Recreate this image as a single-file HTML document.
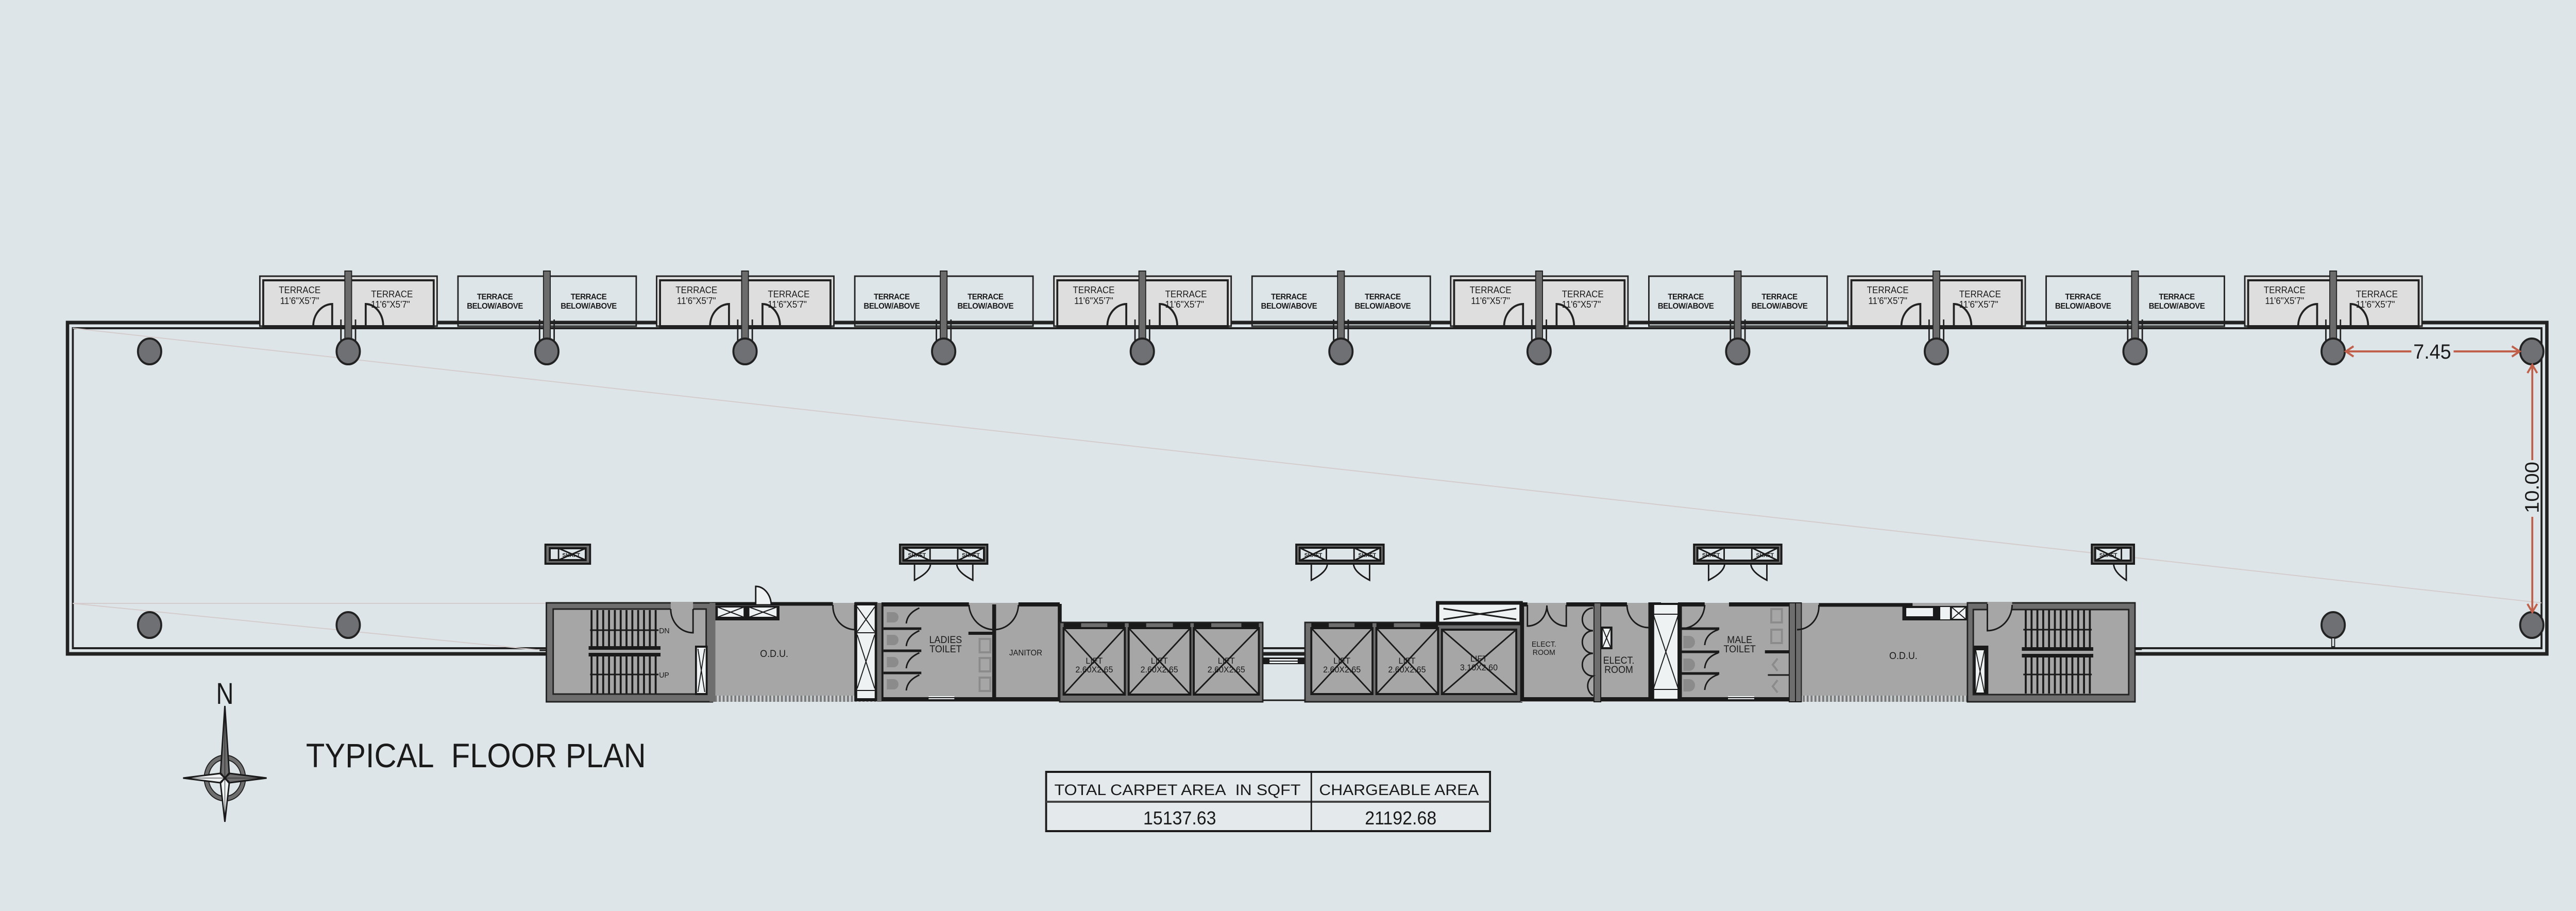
<!DOCTYPE html>
<html><head><meta charset="utf-8">
<style>
html,body{margin:0;padding:0;background:#dee5e8;width:100vw;height:100vh;overflow:hidden;}
svg{display:block;position:absolute;left:0;top:0;width:100vw;height:100vh;}
text{font-family:"Liberation Sans",sans-serif;fill:#1a1a1a;}
.n{font-family:"Liberation Sans Narrow","Liberation Sans",sans-serif;}
</style></head><body>
<svg viewBox="0 0 5304 1768" preserveAspectRatio="none" xmlns="http://www.w3.org/2000/svg" overflow="hidden">
<defs>
<pattern id="hatch" width="8" height="14" patternUnits="userSpaceOnUse"><rect width="8" height="14" fill="#c9ced0"/><rect x="0" y="0" width="4" height="14" fill="#7a7a7a"/></pattern>
</defs>
<rect width="5304" height="1768" fill="#dee5e8"/>

<rect x="139" y="626" width="5105" height="643" fill="none" stroke="#222" stroke-width="7"/>
<rect x="150" y="637" width="5083" height="621" fill="none" stroke="#222" stroke-width="4"/>
<g stroke="#d4cccc" stroke-width="2" fill="none">
<line x1="150" y1="637" x2="5233" y2="1170"/>
<line x1="150" y1="1171" x2="1125" y2="1171"/>
<line x1="150" y1="1171" x2="1125" y2="1263"/>
</g>

<g stroke="#222" fill="none">
<g transform="translate(717,0)"><rect x="-182" y="536" width="365" height="97" fill="#dedede" stroke-width="3"/><rect x="-175" y="544" width="351" height="89" stroke-width="4"/><path d="M-33 633V590A40 43 0 0 0 -72 633M36 633V590A36 43 0 0 1 72 633" stroke-width="4"/></g>
<g transform="translate(1534,0)"><rect x="-182" y="536" width="365" height="97" fill="#dedede" stroke-width="3"/><rect x="-175" y="544" width="351" height="89" stroke-width="4"/><path d="M-33 633V590A40 43 0 0 0 -72 633M36 633V590A36 43 0 0 1 72 633" stroke-width="4"/></g>
<g transform="translate(2352,0)"><rect x="-182" y="536" width="365" height="97" fill="#dedede" stroke-width="3"/><rect x="-175" y="544" width="351" height="89" stroke-width="4"/><path d="M-33 633V590A40 43 0 0 0 -72 633M36 633V590A36 43 0 0 1 72 633" stroke-width="4"/></g>
<g transform="translate(3169,0)"><rect x="-182" y="536" width="365" height="97" fill="#dedede" stroke-width="3"/><rect x="-175" y="544" width="351" height="89" stroke-width="4"/><path d="M-33 633V590A40 43 0 0 0 -72 633M36 633V590A36 43 0 0 1 72 633" stroke-width="4"/></g>
<g transform="translate(3987,0)"><rect x="-182" y="536" width="365" height="97" fill="#dedede" stroke-width="3"/><rect x="-175" y="544" width="351" height="89" stroke-width="4"/><path d="M-33 633V590A40 43 0 0 0 -72 633M36 633V590A36 43 0 0 1 72 633" stroke-width="4"/></g>
<g transform="translate(4804,0)"><rect x="-182" y="536" width="365" height="97" fill="#dedede" stroke-width="3"/><rect x="-175" y="544" width="351" height="89" stroke-width="4"/><path d="M-33 633V590A40 43 0 0 0 -72 633M36 633V590A36 43 0 0 1 72 633" stroke-width="4"/></g>
<rect x="943" y="536" width="367" height="97" stroke-width="3"/>
<rect x="1760" y="536" width="367" height="97" stroke-width="3"/>
<rect x="2578" y="536" width="367" height="97" stroke-width="3"/>
<rect x="3395" y="536" width="367" height="97" stroke-width="3"/>
<rect x="4213" y="536" width="367" height="97" stroke-width="3"/>
</g>

<g font-size="18" text-anchor="middle" fill="#222">
<text x="617" y="569">TERRACE</text><text x="617" y="590">11'6"X5'7"</text><text x="807" y="577">TERRACE</text><text x="804" y="597">11'6"X5'7"</text>
<text x="1434" y="569">TERRACE</text><text x="1434" y="590">11'6"X5'7"</text><text x="1624" y="577">TERRACE</text><text x="1621" y="597">11'6"X5'7"</text>
<text x="2252" y="569">TERRACE</text><text x="2252" y="590">11'6"X5'7"</text><text x="2442" y="577">TERRACE</text><text x="2439" y="597">11'6"X5'7"</text>
<text x="3069" y="569">TERRACE</text><text x="3069" y="590">11'6"X5'7"</text><text x="3259" y="577">TERRACE</text><text x="3256" y="597">11'6"X5'7"</text>
<text x="3887" y="569">TERRACE</text><text x="3887" y="590">11'6"X5'7"</text><text x="4077" y="577">TERRACE</text><text x="4074" y="597">11'6"X5'7"</text>
<text x="4704" y="569">TERRACE</text><text x="4704" y="590">11'6"X5'7"</text><text x="4894" y="577">TERRACE</text><text x="4891" y="597">11'6"X5'7"</text>
</g>
<g font-size="16" font-weight="bold" text-anchor="middle" class="n" letter-spacing="-0.5">
<text x="1019" y="581">TERRACE</text><text x="1019" y="599">BELOW/ABOVE</text><text x="1212" y="581">TERRACE</text><text x="1212" y="599">BELOW/ABOVE</text>
<text x="1836" y="581">TERRACE</text><text x="1836" y="599">BELOW/ABOVE</text><text x="2029" y="581">TERRACE</text><text x="2029" y="599">BELOW/ABOVE</text>
<text x="2654" y="581">TERRACE</text><text x="2654" y="599">BELOW/ABOVE</text><text x="2847" y="581">TERRACE</text><text x="2847" y="599">BELOW/ABOVE</text>
<text x="3471" y="581">TERRACE</text><text x="3471" y="599">BELOW/ABOVE</text><text x="3664" y="581">TERRACE</text><text x="3664" y="599">BELOW/ABOVE</text>
<text x="4289" y="581">TERRACE</text><text x="4289" y="599">BELOW/ABOVE</text><text x="4482" y="581">TERRACE</text><text x="4482" y="599">BELOW/ABOVE</text>
</g>

<g fill="#6b6b6b" stroke="#222" stroke-width="2">
<rect x="710" y="526" width="14" height="140"/><rect x="1119" y="526" width="14" height="140"/><rect x="1527" y="526" width="14" height="140"/><rect x="1936" y="526" width="14" height="140"/><rect x="2345" y="526" width="14" height="140"/><rect x="2754" y="526" width="14" height="140"/><rect x="3162" y="526" width="14" height="140"/><rect x="3571" y="526" width="14" height="140"/><rect x="3980" y="526" width="14" height="140"/><rect x="4389" y="526" width="14" height="140"/><rect x="4797" y="526" width="14" height="140"/>
</g>
<g fill="none" stroke="#222" stroke-width="3">
<path d="M702 620V665M732 620V665M1111 620V665M1141 620V665M1519 620V665M1549 620V665M1928 620V665M1958 620V665M2337 620V665M2367 620V665M2746 620V665M2776 620V665M3154 620V665M3184 620V665M3563 620V665M3593 620V665M3972 620V665M4002 620V665M4381 620V665M4411 620V665M4789 620V665M4819 620V665"/>
</g>

<g fill="#6f7073" stroke="#222" stroke-width="4">
<ellipse cx="308" cy="682" rx="24" ry="25"/><ellipse cx="717" cy="682" rx="24" ry="25"/><ellipse cx="1126" cy="682" rx="24" ry="25"/><ellipse cx="1534" cy="682" rx="24" ry="25"/><ellipse cx="1943" cy="682" rx="24" ry="25"/><ellipse cx="2352" cy="682" rx="24" ry="25"/><ellipse cx="2761" cy="682" rx="24" ry="25"/><ellipse cx="3169" cy="682" rx="24" ry="25"/><ellipse cx="3578" cy="682" rx="24" ry="25"/><ellipse cx="3987" cy="682" rx="24" ry="25"/><ellipse cx="4396" cy="682" rx="24" ry="25"/><ellipse cx="4804" cy="682" rx="24" ry="25"/><ellipse cx="5213" cy="682" rx="24" ry="25"/>
<ellipse cx="308" cy="1213" rx="24" ry="25"/><ellipse cx="717" cy="1213" rx="24" ry="25"/><ellipse cx="4804" cy="1213" rx="24" ry="25"/><ellipse cx="5213" cy="1213" rx="24" ry="25"/>
</g>
<rect x="4801" y="1238" width="6" height="17" fill="#dee5e8" stroke="#222" stroke-width="2"/>

<g stroke="#c0604a" stroke-width="4" fill="none">
<path d="M4830 682H4965M5052 682H5188"/>
<path d="M4846 672L4830 682L4846 692M5172 672L5188 682L5172 692"/>
<path d="M5214 708V893M5214 1003V1188"/>
<path d="M5204 724L5214 708L5224 724M5204 1172L5214 1188L5224 1172"/>
</g>
<text x="5008" y="696" font-size="40" text-anchor="middle">7.45</text>
<text transform="translate(5227,946) rotate(-90)" font-size="40" text-anchor="middle">10.00</text>

<g stroke="#1a1a1a" stroke-width="4">
<rect x="1123" y="1057" width="92" height="37" fill="#6e6e6e"/><rect x="1132" y="1064" width="74" height="23" fill="#dee5e8"/><path d="M1150 1064L1206 1087M1150 1087L1206 1064M1150 1064V1087" fill="none" stroke-width="3"/>
<g fill="none" stroke-width="3">
<path d="M1883 1094V1126Q1916 1110 1916 1094M2003 1094V1126Q1970 1110 1970 1094"/>
<path d="M2700 1094V1126Q2733 1110 2733 1094M2820 1094V1126Q2787 1110 2787 1094"/>
<path d="M3518 1094V1126Q3551 1110 3551 1094M3638 1094V1126Q3605 1110 3605 1094"/>
<path d="M4378 1094V1126Q4352 1110 4352 1094"/>
</g>
<rect x="1853" y="1057" width="180" height="37" fill="#6e6e6e"/><rect x="1860" y="1063" width="166" height="25" fill="#dee5e8"/><path d="M1860 1063L1915 1088M1860 1088L1915 1063M1915 1063V1088M1972 1063V1088M1972 1063L2026 1088M1972 1088L2026 1063" fill="none" stroke-width="3"/>
<rect x="2669" y="1057" width="180" height="37" fill="#6e6e6e"/><rect x="2676" y="1063" width="166" height="25" fill="#dee5e8"/><path d="M2676 1063L2731 1088M2676 1088L2731 1063M2731 1063V1088M2788 1063V1088M2788 1063L2842 1088M2788 1088L2842 1063" fill="none" stroke-width="3"/>
<rect x="3488" y="1057" width="180" height="37" fill="#6e6e6e"/><rect x="3495" y="1063" width="166" height="25" fill="#dee5e8"/><path d="M3495 1063L3550 1088M3495 1088L3550 1063M3550 1063V1088M3607 1063V1088M3607 1063L3661 1088M3607 1088L3661 1063" fill="none" stroke-width="3"/>
<rect x="4307" y="1057" width="87" height="37" fill="#6e6e6e"/><rect x="4314" y="1063" width="73" height="25" fill="#dee5e8"/><path d="M4314 1063L4368 1088M4314 1088L4368 1063M4368 1063V1088" fill="none" stroke-width="3"/>
</g>
<g font-size="11" font-weight="bold" class="n" text-anchor="middle">
<text x="1176" y="1081">SHAFT</text><text x="1888" y="1081">SHAFT</text><text x="1999" y="1081">SHAFT</text><text x="2704" y="1081">SHAFT</text><text x="2815" y="1081">SHAFT</text><text x="3523" y="1081">SHAFT</text><text x="3634" y="1081">SHAFT</text><text x="4341" y="1081">SHAFT</text>
</g>

<rect x="1125" y="1170" width="342" height="192" fill="#6e6e6e" stroke="#222" stroke-width="3"/>
<rect x="1139" y="1182" width="315" height="165" fill="#a6a6a6" stroke="#222" stroke-width="3"/>
<rect x="1381" y="1168" width="46" height="16" fill="#a6a6a6"/>
<path d="M1381 1182A46 46 0 0 0 1427 1228V1182" fill="none" stroke="#1a1a1a" stroke-width="3"/>
<g stroke="#1a1a1a" stroke-width="4">
<path d="M1218 1184V1256M1230 1184V1256M1242 1184V1256M1254 1184V1256M1266 1184V1256M1278 1184V1256M1290 1184V1256M1302 1184V1256M1314 1184V1256M1326 1184V1256M1338 1184V1256M1350 1184V1256"/>
<path d="M1218 1274V1346M1230 1274V1346M1242 1274V1346M1254 1274V1346M1266 1274V1346M1278 1274V1346M1290 1274V1346M1302 1274V1346M1314 1274V1346M1326 1274V1346M1338 1274V1346M1350 1274V1346"/>
<path d="M1215 1223H1356M1215 1309H1356" stroke-width="3"/>
</g>
<rect x="1212" y="1254" width="148" height="7" fill="#1a1a1a"/><rect x="1212" y="1267" width="148" height="7" fill="#1a1a1a"/>
<text x="1357" y="1229" font-size="15" class="n">DN</text><text x="1357" y="1315" font-size="15" class="n">UP</text>
<rect x="1433" y="1255" width="22" height="92" fill="#eef2f3" stroke="#1a1a1a" stroke-width="4"/><path d="M1437 1259L1451 1343M1451 1259L1437 1343" stroke="#1a1a1a" stroke-width="2"/>

<rect x="1467" y="1170" width="339" height="192" fill="#a6a6a6"/>
<rect x="1467" y="1350" width="339" height="12" fill="url(#hatch)"/>
<path d="M1467 1172H1715M1760 1172H1806" stroke="#1a1a1a" stroke-width="7"/>
<path d="M1467 1170V1362" stroke="#6e6e6e" stroke-width="12"/>
<rect x="1473" y="1176" width="132" height="28" fill="#1a1a1a"/>
<rect x="1477" y="1178" width="55" height="20" fill="#eef2f3" stroke="#1a1a1a" stroke-width="2"/><rect x="1542" y="1178" width="58" height="20" fill="#eef2f3" stroke="#1a1a1a" stroke-width="2"/>
<path d="M1477 1178L1532 1198M1477 1198L1532 1178M1542 1178L1600 1198M1542 1198L1600 1178" stroke="#1a1a1a" stroke-width="2"/>
<path d="M1556 1174V1138A32 38 0 0 1 1588 1174Z" fill="#eef2f3" stroke="#1a1a1a" stroke-width="3"/>
<path d="M1715 1174A46 46 0 0 0 1760 1222V1174" fill="none" stroke="#1a1a1a" stroke-width="3"/>
<text x="1594" y="1275" font-size="19" text-anchor="middle" class="n">O.D.U.</text>

<rect x="1762" y="1172" width="42" height="186" fill="#eef2f3" stroke="#1a1a1a" stroke-width="6"/>
<path d="M1765 1228H1801M1765 1340H1801M1765 1178L1801 1226M1801 1178L1765 1226M1765 1232L1801 1336M1801 1232L1765 1336" stroke="#1a1a1a" stroke-width="2"/>

<rect x="1806" y="1170" width="376" height="192" fill="#a6a6a6"/>
<path d="M1815 1172V1357H2182V1210M2182 1172V1210M1815 1173H1995M2097 1173H2182M2047 1173V1357" fill="none" stroke="#1a1a1a" stroke-width="8"/>
<rect x="1806" y="1170" width="9" height="192" fill="#6e6e6e"/>
<path d="M1995 1174A52 52 0 0 0 2047 1222M2097 1174A50 50 0 0 1 2047 1222" fill="none" stroke="#1a1a1a" stroke-width="3"/>
<rect x="1994" y="1226" width="55" height="6" fill="#1a1a1a"/>
<path d="M1819 1220H1897M1819 1263H1897M1819 1306H1897" stroke="#1a1a1a" stroke-width="5"/>
<g fill="none" stroke="#1a1a1a" stroke-width="3"><path d="M1893 1180Q1868 1190 1866 1210M1893 1224Q1868 1234 1866 1254M1893 1267Q1868 1277 1866 1297M1893 1310Q1868 1320 1866 1340"/></g>
<g fill="#8b8b8b"><path d="M1826 1188H1840A10 10 0 0 1 1840 1208H1826Z"/><path d="M1826 1232H1840A10 10 0 0 1 1840 1252H1826Z"/><path d="M1826 1275H1840A10 10 0 0 1 1840 1295H1826Z"/><path d="M1826 1318H1840A10 10 0 0 1 1840 1338H1826Z"/></g>
<g fill="none" stroke="#8b8b8b" stroke-width="4"><rect x="2017" y="1240" width="22" height="26"/><rect x="2017" y="1277" width="22" height="26"/><rect x="2017" y="1315" width="22" height="26"/></g>
<path d="M1912 1352H1965M1912 1356H1965" stroke="#eef2f3" stroke-width="2"/>
<text x="1947" y="1248" font-size="19" text-anchor="middle">LADIES</text><text x="1947" y="1266" font-size="19" text-anchor="middle">TOILET</text>
<text x="2112" y="1272" font-size="16" text-anchor="middle">JANITOR</text>

<rect x="2182" y="1208" width="418" height="154" fill="#6e6e6e" stroke="#222" stroke-width="3"/>
<g fill="#a6a6a6" stroke="#1a1a1a" stroke-width="4">
<rect x="2190" y="1219" width="126" height="129"/><rect x="2324" y="1219" width="127" height="129"/><rect x="2458" y="1219" width="134" height="129"/>
</g>
<g stroke="#1a1a1a" stroke-width="3">
<path d="M2190 1219L2316 1348M2316 1219L2190 1348M2324 1219L2451 1348M2451 1219L2324 1348M2458 1219L2592 1348M2592 1219L2458 1348"/>
</g>
<g fill="#1a1a1a"><rect x="2190" y="1209" width="36" height="10"/><rect x="2280" y="1209" width="36" height="10"/><rect x="2324" y="1209" width="36" height="10"/><rect x="2415" y="1209" width="36" height="10"/><rect x="2458" y="1209" width="36" height="10"/><rect x="2556" y="1209" width="36" height="10"/></g>
<g font-size="17" text-anchor="middle" class="n"><text x="2253" y="1288">LIFT</text><text x="2253" y="1305">2.60X2.65</text><text x="2387" y="1288">LIFT</text><text x="2387" y="1305">2.60X2.65</text><text x="2525" y="1288">LIFT</text><text x="2525" y="1305">2.60X2.65</text></g>

<path d="M2600 1359H2687" stroke="#1a1a1a" stroke-width="3"/>
<rect x="2600" y="1276" width="87" height="13" fill="#1a1a1a"/><rect x="2614" y="1279" width="58" height="3" fill="#eef2f3"/><rect x="2614" y="1284" width="58" height="3" fill="#eef2f3"/>

<rect x="2687" y="1208" width="446" height="154" fill="#6e6e6e" stroke="#222" stroke-width="3"/>
<rect x="2960" y="1170" width="172" height="40" fill="#eef2f3" stroke="#1a1a1a" stroke-width="7"/>
<path d="M2972 1181L3122 1202M3122 1181L2972 1202" stroke="#1a1a1a" stroke-width="3"/>
<g fill="#a6a6a6" stroke="#1a1a1a" stroke-width="4">
<rect x="2700" y="1219" width="126" height="128"/><rect x="2834" y="1219" width="127" height="128"/><rect x="2969" y="1222" width="153" height="125"/>
</g>
<g stroke="#1a1a1a" stroke-width="3">
<path d="M2700 1219L2826 1347M2826 1219L2700 1347M2834 1219L2961 1347M2961 1219L2834 1347M2969 1222L3122 1347M3122 1222L2969 1347"/>
</g>
<g fill="#1a1a1a"><rect x="2700" y="1209" width="36" height="10"/><rect x="2789" y="1209" width="37" height="10"/><rect x="2834" y="1209" width="36" height="10"/><rect x="2924" y="1209" width="37" height="10"/></g>
<g font-size="17" text-anchor="middle" class="n"><text x="2763" y="1288">LIFT</text><text x="2763" y="1305">2.60X2.65</text><text x="2897" y="1288">LIFT</text><text x="2897" y="1305">2.60X2.65</text><text x="3045" y="1284">LIFT</text><text x="3045" y="1301">3.10X2.60</text></g>

<rect x="3131" y="1170" width="566" height="192" fill="#a6a6a6"/>
<path d="M3134 1172V1357H3697M3131 1173H3145M3225 1173H3282M3296 1173H3350M3394 1173H3420M3455 1173H3510M3560 1173H3697" fill="none" stroke="#1a1a1a" stroke-width="8"/>
<rect x="3282" y="1170" width="14" height="192" fill="#6e6e6e" stroke="#1a1a1a" stroke-width="2"/>
<rect x="3684" y="1170" width="13" height="192" fill="#6e6e6e" stroke="#1a1a1a" stroke-width="2"/>
<g fill="none" stroke="#1a1a1a" stroke-width="3">
<path d="M3145 1174V1215A40 40 0 0 0 3185 1175A40 40 0 0 0 3225 1215V1174"/>
<path d="M3350 1174A44 44 0 0 0 3394 1218"/>
<path d="M3510 1174A48 48 0 0 1 3462 1220"/>
<path d="M3280 1180A22 22 0 0 0 3280 1224A22 22 0 0 0 3280 1268A22 22 0 0 0 3280 1312A22 22 0 0 0 3280 1350"/>
</g>
<rect x="3298" y="1218" width="20" height="40" fill="#eef2f3" stroke="#1a1a1a" stroke-width="4"/><path d="M3300 1220L3316 1256M3316 1220L3300 1256" stroke="#1a1a1a" stroke-width="2"/>
<rect x="3394" y="1170" width="10" height="190" fill="#1a1a1a"/>
<rect x="3404" y="1172" width="52" height="186" fill="#eef2f3" stroke="#1a1a1a" stroke-width="4"/>
<path d="M3404 1192H3456M3404 1338H3456M3404 1192L3456 1338M3456 1192L3404 1338" stroke="#1a1a1a" stroke-width="2"/>
<rect x="3456" y="1170" width="7" height="190" fill="#1a1a1a"/>
<path d="M3463 1220H3540M3463 1265H3540M3463 1307H3540" stroke="#1a1a1a" stroke-width="5"/>
<g fill="none" stroke="#1a1a1a" stroke-width="3"><path d="M3538 1222Q3512 1230 3510 1252M3538 1267Q3512 1275 3510 1297M3538 1309Q3512 1317 3510 1339"/></g>
<g fill="#8b8b8b"><path d="M3466 1234H3478A12 12 0 0 1 3478 1258H3466Z"/><path d="M3466 1278H3478A12 12 0 0 1 3478 1302H3466Z"/><path d="M3466 1318H3478A12 12 0 0 1 3478 1342H3466Z"/></g>
<g fill="none" stroke="#8b8b8b" stroke-width="4"><rect x="3647" y="1182" width="22" height="26"/><rect x="3647" y="1222" width="22" height="26"/><path d="M3660 1278L3650 1290L3660 1302M3660 1320L3650 1332L3660 1344"/></g>
<rect x="3634" y="1262" width="50" height="6" fill="#1a1a1a"/>
<path d="M3640 1310H3684" stroke="#1a1a1a" stroke-width="3"/>
<path d="M3558 1352H3612M3558 1356H3612" stroke="#eef2f3" stroke-width="2"/>
<g text-anchor="middle"><text x="3179" y="1255" font-size="15">ELECT.</text><text x="3179" y="1271" font-size="15">ROOM</text>
<text x="3333" y="1288" font-size="19">ELECT.</text><text x="3333" y="1306" font-size="19">ROOM</text>
<text x="3582" y="1248" font-size="19">MALE</text><text x="3582" y="1266" font-size="19">TOILET</text></g>

<rect x="3697" y="1170" width="354" height="192" fill="#a6a6a6"/>
<rect x="3697" y="1350" width="354" height="12" fill="url(#hatch)"/>
<rect x="3697" y="1170" width="12" height="192" fill="#6e6e6e" stroke="#1a1a1a" stroke-width="2"/>
<path d="M3745 1174H3938" stroke="#1a1a1a" stroke-width="7"/>
<rect x="3917" y="1176" width="134" height="28" fill="#1a1a1a"/>
<rect x="3925" y="1180" width="55" height="16" fill="#eef2f3"/><rect x="3995" y="1178" width="20" height="24" fill="#eef2f3"/><rect x="4018" y="1178" width="30" height="24" fill="#eef2f3" stroke="#1a1a1a" stroke-width="2"/><path d="M4018 1178L4048 1202M4048 1178L4018 1202" stroke="#1a1a1a" stroke-width="2"/>
<path d="M3745 1174A45 45 0 0 1 3700 1222" fill="none" stroke="#1a1a1a" stroke-width="3"/>
<text x="3919" y="1279" font-size="19" text-anchor="middle" class="n">O.D.U.</text>

<rect x="4051" y="1170" width="345" height="192" fill="#6e6e6e" stroke="#222" stroke-width="3"/>
<rect x="4063" y="1183" width="320" height="165" fill="#a6a6a6" stroke="#222" stroke-width="3"/>
<rect x="4092" y="1168" width="51" height="17" fill="#a6a6a6"/>
<path d="M4092 1172V1224A51 51 0 0 0 4143 1174" fill="none" stroke="#1a1a1a" stroke-width="3"/>
<g stroke="#1a1a1a" stroke-width="4">
<path d="M4171 1184V1256M4183 1184V1256M4195 1184V1256M4207 1184V1256M4219 1184V1256M4231 1184V1256M4243 1184V1256M4255 1184V1256M4267 1184V1256M4279 1184V1256M4291 1184V1256M4303 1184V1256"/>
<path d="M4171 1274V1346M4183 1274V1346M4195 1274V1346M4207 1274V1346M4219 1274V1346M4231 1274V1346M4243 1274V1346M4255 1274V1346M4267 1274V1346M4279 1274V1346M4291 1274V1346M4303 1274V1346"/>
<path d="M4166 1222H4307M4166 1309H4307" stroke-width="3"/>
</g>
<rect x="4163" y="1256" width="147" height="7" fill="#1a1a1a"/><rect x="4163" y="1269" width="147" height="7" fill="#1a1a1a"/>
<rect x="4064" y="1253" width="30" height="94" fill="#1a1a1a"/><rect x="4068" y="1262" width="18" height="82" fill="#eef2f3"/><path d="M4068 1262L4086 1344M4086 1262L4068 1344" stroke="#1a1a1a" stroke-width="2"/>
<path d="M4396 1260H4410M4396 1268H4410" stroke="#1a1a1a" stroke-width="3"/>
<path d="M1111 1262H1125M1111 1270H1125" stroke="#1a1a1a" stroke-width="3"/>

<text x="463" y="1366" font-size="58" text-anchor="middle" textLength="36" lengthAdjust="spacingAndGlyphs">N</text>
<ellipse cx="463" cy="1510" rx="38" ry="40" fill="none" stroke="#222" stroke-width="11"/>
<ellipse cx="463" cy="1510" rx="38" ry="40" fill="none" stroke="#6e6e6e" stroke-width="7"/>
<path d="M463 1370L472 1500L463 1510L454 1500Z" fill="#6e6e6e" stroke="#1a1a1a" stroke-width="3"/>
<path d="M463 1595L472 1520L463 1510L454 1520Z" fill="#eef2f3" stroke="#1a1a1a" stroke-width="3"/>
<path d="M377 1510L453 1501L463 1510L453 1519Z" fill="#eef2f3" stroke="#1a1a1a" stroke-width="3"/>
<path d="M549 1510L473 1501L463 1510L473 1519Z" fill="#6e6e6e" stroke="#1a1a1a" stroke-width="3"/>
<path d="M463 1370V1595M377 1510H549" stroke="#1a1a1a" stroke-width="1"/>

<text x="630" y="1489" font-size="66" textLength="700" lengthAdjust="spacingAndGlyphs" class="n">TYPICAL&#160;&#160;FLOOR PLAN</text>

<rect x="2154" y="1498" width="914" height="115" fill="#e4e9eb" stroke="#1a1a1a" stroke-width="4"/>
<path d="M2154 1556H3068" stroke="#444" stroke-width="4"/>
<path d="M2700 1498V1613" stroke="#1a1a1a" stroke-width="3"/>
<text x="2171" y="1543" font-size="30" class="n" textLength="507" lengthAdjust="spacingAndGlyphs">TOTAL CARPET AREA&#160;&#160;IN SQFT</text>
<text x="2716" y="1543" font-size="30" class="n" textLength="329" lengthAdjust="spacingAndGlyphs">CHARGEABLE AREA</text>
<text x="2429" y="1600" font-size="36" class="n" text-anchor="middle">15137.63</text>
<text x="2884" y="1600" font-size="36" class="n" text-anchor="middle">21192.68</text>
</svg>
</body></html>
